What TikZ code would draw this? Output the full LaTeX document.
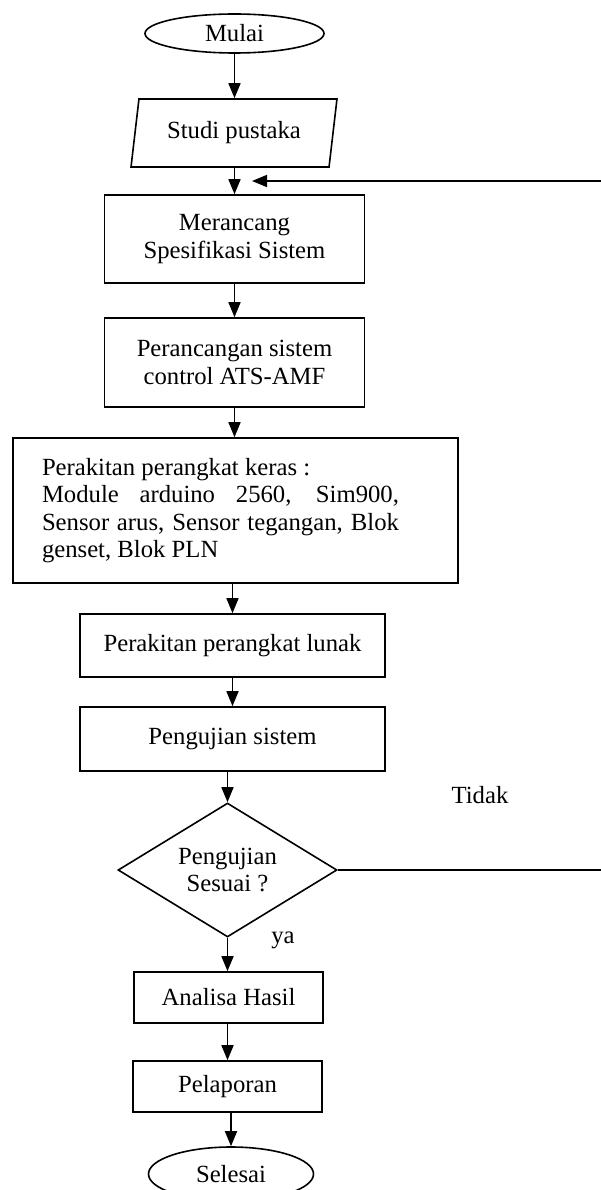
\documentclass[tikz,border=0pt]{standalone}
\usepackage{fontspec}
\setmainfont{Liberation Serif}
\usepackage{tikz}
\usetikzlibrary{positioning, arrows.meta, shapes.geometric}

\tikzset{
    garis/.style={line width=1.6pt},
    panah/.style={garis, -{Triangle[length=15pt, width=12pt]}},
    kotak/.style={draw, garis, rectangle, inner sep=0pt, align=center},
    oval/.style={draw, garis, ellipse, inner sep=0pt},
    jajar/.style={draw, garis, trapezium, trapezium left angle=76, trapezium right angle=104, trapezium stretches=true, inner sep=0pt},
    belah/.style={draw, garis, diamond, aspect=1.63, inner sep=0pt, align=center}
}

\begin{document}
\begin{tikzpicture}[x=1pt, y=-1pt, font=\fontsize{24.7}{27.5}\selectfont]
    \useasboundingbox (0,0) rectangle (600,1190);

    % Define nodes
    \node[oval, minimum width=179pt, minimum height=39pt] (mulai) at (234.5,33.5) {Mulai};
    \node[jajar, minimum width=206pt, minimum height=68pt] (studi) at (234,133) {Studi pustaka};
    \node[kotak, minimum width=260pt, minimum height=88pt] (spesifikasi) at (234.5,239) {Merancang\\Spesifikasi Sistem};
    \node[kotak, minimum width=260pt, minimum height=89pt] (kontrol) at (234.5,362.5) {Perancangan sistem\\control ATS-AMF};
    \node[kotak, minimum width=445pt, minimum height=145pt] (keras) at (235.5,510.5)
        {\parbox{357pt}{Perakitan perangkat keras :\\Module arduino 2560, Sim900,\linebreak Sensor arus, Sensor tegangan, Blok\linebreak genset, Blok PLN}\hspace{30pt}};
    \node[kotak, minimum width=305pt, minimum height=63pt] (lunak) at (232.5,645.5) {Perakitan perangkat lunak};
    \node[kotak, minimum width=305pt, minimum height=64pt] (uji) at (232.5,739) {Pengujian sistem};
    \node[belah, minimum width=219pt, minimum height=134pt] (sesuai) at (227.5,870) {Pengujian\\Sesuai ?};
    \node[kotak, minimum width=189pt, minimum height=51pt] (analisa) at (228.5,997.5) {Analisa Hasil};
    \node[kotak, minimum width=189pt, minimum height=51pt] (laporan) at (227.5,1086.5) {Pelaporan};
    \node[oval, minimum width=165pt, minimum height=54pt] (selesai) at (231,1174) {Selesai};

    % Labels
    \node (tidak) at (480,795) {Tidak};
    \node (ya) at (283,940) {ya};

    \coordinate (kanan) at (602,181);
    \coordinate (masuk) at (252,181);

    % Draw arrows
    \draw[panah] (mulai.south) -- (mulai.south |- studi.north);
    \draw[panah] (spesifikasi.north |- studi.south) -- (spesifikasi.north);
    \draw[panah] (spesifikasi.south) -- (kontrol.north);
    \draw[panah] (kontrol.south) -- (kontrol.south |- keras.north);
    \draw[panah] (lunak.north |- keras.south) -- (lunak.north);
    \draw[panah] (lunak.south) -- (uji.north);
    \draw[panah] (sesuai.north |- uji.south) -- (sesuai.north);
    \draw[panah] (sesuai.south) -- (sesuai.south |- analisa.north);
    \draw[panah] (laporan.north |- analisa.south) -- (laporan.north);
    \draw[panah] (selesai.north |- laporan.south) -- (selesai.north);
    \draw[panah] (sesuai.east) -| (kanan) -- (masuk);
\end{tikzpicture}
\end{document}
